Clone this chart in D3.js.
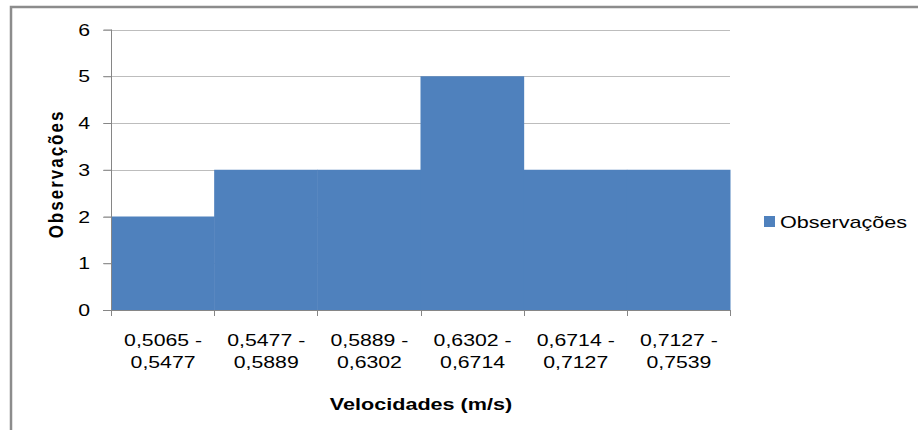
<!DOCTYPE html>
<html>
<head>
<meta charset="utf-8">
<script src="https://cdn.jsdelivr.net/npm/d3@7/dist/d3.min.js"></script>
<style>
  html, body { margin: 0; padding: 0; background: #fff; }
  svg { display: block; }
  text { font-family: "Liberation Sans", Arial, sans-serif; fill: #000; }
</style>
</head>
<body>
<svg id="chart" width="918" height="430"></svg>
<script>
// Velocity class intervals and the number of observations in each
const classLow  = ["0,5065 -", "0,5477 -", "0,5889 -", "0,6302 -", "0,6714 -", "0,7127 -"];
const classHigh = ["0,5477", "0,5889", "0,6302", "0,6714", "0,7127", "0,7539"];
const observations = [2, 3, 3, 5, 3, 3];
const yTicks = [0, 1, 2, 3, 4, 5, 6];
const seriesName = "Observações";
const xTitle = "Velocidades (m/s)";
const yTitle = "Observações";

const svg = d3.select("#chart");
const barColor = "#4F81BD";
const axisColor = "#868686";
const wide = 1.25; // horizontal stretch of the chart lettering

// outer chart frame (runs off the right and bottom of the view)
svg.append("rect")
  .attr("x", 11).attr("y", 7)
  .attr("width", 940).attr("height", 460)
  .attr("fill", "none")
  .attr("stroke", "#8c8c8c")
  .attr("stroke-width", 2.5);

const plotLeft = 111, plotRight = 730, plotTop = 29.5, plotBottom = 310;

const x = d3.scaleBand()
  .domain(d3.range(observations.length))
  .range([plotLeft, plotRight])
  .paddingInner(0).paddingOuter(0);

const y = d3.scaleLinear().domain([0, 6]).range([plotBottom, plotTop]);

// horizontal gridlines
svg.append("g")
  .selectAll("line")
  .data(yTicks.filter(d => d > 0))
  .join("line")
  .attr("x1", plotLeft - 8).attr("x2", plotRight)
  .attr("y1", d => Math.round(y(d)) + 0.5).attr("y2", d => Math.round(y(d)) + 0.5)
  .attr("stroke", "#bdbdbd").attr("stroke-width", 1);

// histogram bars
svg.append("g")
  .selectAll("rect")
  .data(observations)
  .join("rect")
  .attr("x", (d, i) => x(i))
  .attr("width", x.bandwidth() + 0.5)
  .attr("y", d => y(d))
  .attr("height", d => y(0) - y(d))
  .attr("fill", barColor);

// y axis: line and ticks from d3.axisLeft, labels drawn stretched
const yAxis = svg.append("g")
  .attr("transform", `translate(${plotLeft + 0.5},0)`)
  .call(d3.axisLeft(y).tickValues(yTicks).tickSize(8).tickFormat(""));
yAxis.select(".domain").attr("stroke", axisColor).attr("d", `M0,${plotTop}V${plotBottom}`);
yAxis.selectAll(".tick line").attr("stroke", axisColor);

svg.append("g")
  .selectAll("text")
  .data(yTicks)
  .join("text")
  .attr("transform", d => `translate(90,${y(d) + 6}) scale(${wide},1)`)
  .attr("text-anchor", "end")
  .style("font-size", "17px")
  .text(d => d);

// x axis: baseline plus boundary tick marks
const edges = d3.range(observations.length + 1).map(i => i === observations.length ? plotRight : x(i));
svg.append("line")
  .attr("x1", plotLeft - 8).attr("x2", plotRight)
  .attr("y1", plotBottom + 0.5).attr("y2", plotBottom + 0.5)
  .attr("stroke", axisColor);
svg.append("g")
  .selectAll("line")
  .data(edges)
  .join("line")
  .attr("x1", d => Math.round(d) + 0.5).attr("x2", d => Math.round(d) + 0.5)
  .attr("y1", plotBottom).attr("y2", plotBottom + 6)
  .attr("stroke", axisColor);

// category labels in two lines
const labels = svg.append("g")
  .selectAll("text")
  .data(classLow)
  .join("text")
  .attr("transform", (d, i) => `translate(${x(i) + x.bandwidth() / 2 + 0.5},0) scale(${wide},1)`)
  .attr("text-anchor", "middle")
  .style("font-size", "17px");
labels.append("tspan")
  .attr("x", 0)
  .attr("y", 346)
  .text(d => d);
labels.append("tspan")
  .attr("x", 0)
  .attr("y", 368)
  .text((d, i) => classHigh[i]);

// axis titles
svg.append("text")
  .attr("transform", `translate(421,410) scale(1.27,1)`)
  .attr("text-anchor", "middle")
  .style("font-size", "17px")
  .style("font-weight", "bold")
  .text(xTitle);

svg.append("text")
  .attr("transform", "translate(63,174) rotate(-90) scale(1,1.2)")
  .attr("text-anchor", "middle")
  .style("font-size", "17px")
  .style("font-weight", "bold")
  .style("letter-spacing", "2px")
  .text(yTitle);

// legend
svg.append("rect")
  .attr("x", 764).attr("y", 216)
  .attr("width", 11).attr("height", 11)
  .attr("fill", barColor);
svg.append("text")
  .attr("transform", `translate(780,228) scale(1.27,1)`)
  .style("font-size", "17px")
  .text(seriesName);
</script>
</body>
</html>
